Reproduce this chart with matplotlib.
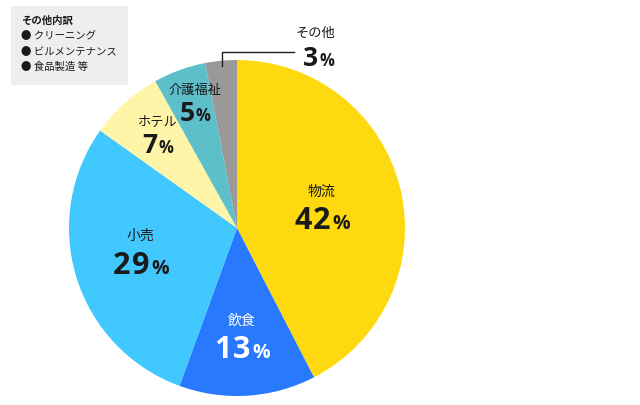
"""Pie chart of industry breakdown (Japanese labels)."""

import numpy as np
import matplotlib
matplotlib.use("Agg")
import matplotlib.pyplot as plt

plt.rcParams["font.family"] = ["Noto Sans CJK JP", "DejaVu Sans"]

categories = ["物流", "飲食", "小売", "ホテル", "介護福祉", "その他"]
shares = [42, 13, 29, 7, 5, 3]
colors = ["#FFD90F", "#2979FF", "#40C8FF", "#FFF5A8", "#5CBFC9", "#999999"]
text_colors = ["#1a1a1a", "white", "#1a1a1a", "#1a1a1a", "#1a1a1a", "#1a1a1a"]

other_title = "その他内訳"
other_items = ["クリーニング", "ビルメンテナンス", "食品製造 等"]

# label layout: (angle in degrees, fraction of radius) for the inside labels
label_layout = [(15.8, 0.525), (-87.3, 0.625), (-168.2, 0.585),
                (129.6, 0.74), (108.2, 0.80)]

W, H = 640, 406
CX, CY, R = 237, H - 229, 168
NUM_FONT = ["Open Sans", "DejaVu Sans"]
TRACK = 1.5  # extra pixels between characters of the value


def put_value(ax, x, y, value, color, big, small):
    """Draw '42%' with a big number and a smaller percent sign, centred on x."""
    renderer = ax.figure.canvas.get_renderer()
    parts = [(ch, big) for ch in str(value)] + [("%", small)]
    texts, widths = [], []
    for ch, size in parts:
        t = ax.text(x, y, ch, fontsize=size, fontweight="bold",
                    family=NUM_FONT, color=color, ha="left", va="baseline")
        texts.append(t)
        widths.append(t.get_window_extent(renderer).width)
    total = sum(widths) + TRACK * (len(parts) - 1)
    pos = x - total / 2
    for t, w in zip(texts, widths):
        t.set_x(pos)
        pos += w + TRACK


def main():
    fig = plt.figure(figsize=(W / 100, H / 100), dpi=100)
    ax = fig.add_axes([0, 0, 1, 1])

    wedges, _ = ax.pie(shares, colors=colors, startangle=90,
                       counterclock=False, center=(CX, CY), radius=R,
                       wedgeprops=dict(linewidth=0), frame=True)
    ax.set_xlim(0, W)
    ax.set_ylim(0, H)
    ax.axis("off")

    for i, (ang, frac) in enumerate(label_layout):
        a = np.deg2rad(ang)
        x = CX + frac * R * np.cos(a)
        y = CY + frac * R * np.sin(a)
        if shares[i] > 10:
            fs, gap, big, small, drop = 10, 13, 22, 14, 11.5
        else:
            fs, gap, big, small, drop = 9.5, 10.5, 19, 12, 9.5
        ax.text(x, y + gap, categories[i], fontsize=fs, color=text_colors[i],
                ha="center", va="center")
        put_value(ax, x, y - gap - drop, shares[i], text_colors[i], big, small)

    # "other" slice: leader line to an outside label
    w = wedges[-1]
    mid = np.deg2rad((w.theta1 + w.theta2) / 2)
    x0 = CX + 0.97 * R * np.cos(mid)
    y0 = CY + 0.97 * R * np.sin(mid)
    y1 = CY + R + 8
    ax.plot([x0, x0, x0 + 72], [y0, y1, y1], color="#222222", linewidth=1)
    ax.text(x0 + 94, y1 + 20, categories[-1], fontsize=9.5,
            color=text_colors[-1], ha="center", va="center")
    put_value(ax, x0 + 97, y1 - 4 - 9.5, shares[-1], text_colors[-1],
              big=19, small=12)

    # breakdown box for "other"
    box = plt.Rectangle((11, H - 86), 117, 79, facecolor="#EEEEEE",
                        edgecolor="none")
    ax.add_patch(box)
    ax.text(21, H - 21, other_title, fontsize=7.5, fontweight="bold",
            color="#1a1a1a", ha="left", va="center")
    for k, item in enumerate(other_items):
        ax.text(21, H - 36.5 - 15 * k, "● " + item, fontsize=7.5,
                color="#1a1a1a", ha="left", va="center")

    fig.savefig("out.png", dpi=100)


if __name__ == "__main__":
    main()
